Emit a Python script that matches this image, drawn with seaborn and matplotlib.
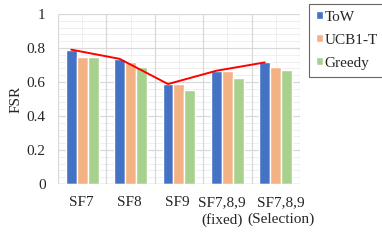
import numpy as np
import pandas as pd
import matplotlib
matplotlib.use("Agg")
import matplotlib.pyplot as plt
import matplotlib.transforms as mtransforms
import seaborn as sns

# data
categories = ["SF7", "SF8", "SF9", "SF7,8,9\n(fixed)", "SF7,8,9\n(Selection)"]
methods = ["ToW", "UCB1-T", "Greedy"]
tow = [0.79, 0.736, 0.588, 0.666, 0.715]
ucb = [0.748, 0.72, 0.588, 0.666, 0.691]
greedy = [0.748, 0.691, 0.553, 0.625, 0.67]
yticks = [0, 0.2, 0.4, 0.6, 0.8, 1]
ytick_labels = ["0", "0.2", "0.4", "0.6", "0.8", "1"]

colors = ["#4472C4", "#F4B183", "#A9D18E"]
fs = 11

df = pd.DataFrame({
    "cat": categories * 3,
    "method": [m for m in methods for _ in categories],
    "FSR": tow + ucb + greedy,
})

sns.set_style("white")
plt.rcParams["font.family"] = ["Liberation Serif", "DejaVu Serif"]

fig = plt.figure(figsize=(3.82, 2.45), dpi=100)
ax = fig.add_axes([0.152, 0.249, 0.633, 0.694])

ax = sns.barplot(data=df, x="cat", y="FSR", hue="method", palette=colors,
                 width=0.68, saturation=1, ax=ax, legend=True, zorder=3)

# red line through ToW bar tops
bars = ax.containers[0]
xs = [b.get_x() + b.get_width() / 2 for b in bars]
ax.plot(xs, tow, color="#FF0000", lw=1.4, zorder=4)

# grid: major + minor
ax.set_ylim(0, 1)
ax.set_xlim(-0.5, len(categories) - 0.5)
for y in np.arange(0, 1.0001, 0.04):
    ax.axhline(y, color="#EFEFEF", lw=0.7, zorder=1)
for y in yticks:
    ax.axhline(y, color="#D9D9D9", lw=0.9, zorder=2)
for x in range(len(categories)):
    ax.axvline(x, color="#EFEFEF", lw=0.7, zorder=1)
for x in np.arange(-0.5, len(categories), 1.0):
    ax.axvline(x, color="#D9D9D9", lw=0.9, zorder=2)
ax.axhline(0, color="#D0D0D0", lw=1.0, zorder=5)

ax.set_yticks(yticks)
ax.set_yticklabels(ytick_labels, fontsize=fs)
ax.set_xticks(range(len(categories)))
ax.set_xticklabels(categories, fontsize=fs, linespacing=1.4)
ax.tick_params(axis="both", which="both", length=0)
ax.tick_params(axis="x", pad=8.5)
ax.tick_params(axis="y", pad=9)
for s in ax.spines.values():
    s.set_visible(False)

# spread the two long labels apart a little, like the original
xl = ax.get_xticklabels()
for lab, dx in zip(xl, [-0.01, -0.01, -0.015, -0.055, 0.055]):
    lab.set_transform(lab.get_transform() + mtransforms.ScaledTranslation(dx, 0, fig.dpi_scale_trans))

ax.set_xlabel("")
ax.set_ylabel("FSR", fontsize=fs, labelpad=3)

handles, labels = ax.get_legend_handles_labels()
ax.get_legend().remove()
leg = fig.legend(handles, labels, loc="upper left", bbox_to_anchor=(0.809, 0.984),
                 fontsize=fs, frameon=True, fancybox=False, edgecolor="#404040",
                 handlelength=0.45, handleheight=0.45, handletextpad=0.1,
                 labelspacing=0.65, borderpad=0.45, borderaxespad=0)
leg.get_frame().set_linewidth(0.8)

fig.savefig("out.png", dpi=100)
